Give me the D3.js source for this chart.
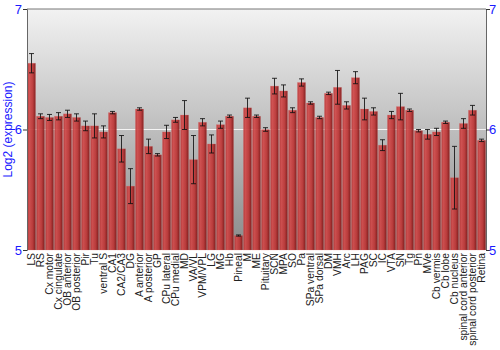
<!DOCTYPE html>
<html>
<head>
<meta charset="utf-8">
<script src="https://cdn.jsdelivr.net/npm/d3@7"></script>
<style>
  body { margin: 0; background: #fff; }
  svg { display: block; font-family: "Liberation Sans", Arial, sans-serif; }
</style>
</head>
<body>
<svg id="chart" width="500" height="350"></svg>
<script>
// Chart data
const regions = ["LS", "RS", "Cx motor", "Cx cingulate", "OB anterior", "OB posterior", "Pir", "Tu",
  "ventral S", "CA1", "CA2/CA3", "DG", "A anterior", "A posterior", "GP", "CPu lateral", "CPu medial",
  "MD", "VA/VL", "VPM/VPL", "LG", "MG", "Hb", "Pineal", "M", "ME", "Pituitary", "SCN", "MPA", "SO",
  "Pa", "SPa ventral", "SPa dorsal", "DM", "VMH", "Arc", "LH", "PAG", "SC", "IC", "VTA", "SN", "Tg",
  "Pn", "MVe", "Cb vermis", "Cb lobe", "Cb nucleus", "spinal cord anterior", "spinal cord posterior", "Retina"];
const expression = [6.55, 6.11, 6.10, 6.11, 6.13, 6.10, 6.03, 6.03, 5.98, 6.14, 5.84, 5.53, 6.17, 5.86,
  5.79, 5.98, 6.08, 6.12, 5.75, 6.06, 5.88, 6.04, 6.11, 5.12, 6.18, 6.11, 6.00, 6.36, 6.32, 6.16,
  6.39, 6.22, 6.10, 6.30, 6.35, 6.20, 6.43, 6.17, 6.15, 5.87, 6.12, 6.19, 6.16, 5.99, 5.96, 5.98,
  6.06, 5.60, 6.05, 6.16, 5.91];
const errors = [0.08, 0.02, 0.025, 0.03, 0.03, 0.03, 0.04, 0.10, 0.05, 0.01, 0.11, 0.145, 0.01, 0.06,
  0.01, 0.055, 0.02, 0.12, 0.20, 0.03, 0.075, 0.03, 0.01, 0.005, 0.08, 0.01, 0.015, 0.065, 0.05, 0.02,
  0.03, 0.01, 0.01, 0.01, 0.14, 0.03, 0.05, 0.09, 0.03, 0.045, 0.03, 0.11, 0.01, 0.01, 0.04, 0.03,
  0.01, 0.26, 0.04, 0.04, 0.01];
const yTicks = [5, 6, 7];

const svg = d3.select("#chart");
const margin = {top: 9, right: 14, bottom: 100, left: 27};
const width = 500 - margin.left - margin.right;
const height = 350 - margin.top - margin.bottom;

const x = d3.scaleBand().domain(regions).range([0, width]).paddingInner(0.1).paddingOuter(0.05);
const y = d3.scaleLinear().domain([5, 7]).range([height, 0]);

const defs = svg.append("defs");
const bg = defs.append("linearGradient").attr("id", "bg").attr("x1", 0).attr("y1", 0).attr("x2", 0).attr("y2", 1);
bg.append("stop").attr("offset", "0%").attr("stop-color", "#f2f2f2");
bg.append("stop").attr("offset", "100%").attr("stop-color", "#8a8a8a");

const barFill = defs.append("linearGradient").attr("id", "bar").attr("x1", 0).attr("y1", 0).attr("x2", 1).attr("y2", 0);
barFill.append("stop").attr("offset", "0%").attr("stop-color", "#b83434");
barFill.append("stop").attr("offset", "25%").attr("stop-color", "#d04848");
barFill.append("stop").attr("offset", "65%").attr("stop-color", "#bc3434");
barFill.append("stop").attr("offset", "100%").attr("stop-color", "#7e1414");

const g = svg.append("g").attr("transform", `translate(${margin.left},${margin.top})`);

// Plot background and grid
g.append("rect").attr("width", width).attr("height", height).attr("fill", "url(#bg)");
g.append("line")
  .attr("x1", 0).attr("x2", width)
  .attr("y1", y(6)).attr("y2", y(6))
  .attr("stroke", "#f4f4f4").attr("stroke-width", 1.2);

// Bars
g.selectAll("rect.bar")
  .data(regions)
  .join("rect")
  .attr("class", "bar")
  .attr("x", d => x(d))
  .attr("width", x.bandwidth())
  .attr("y", (d, i) => y(expression[i]))
  .attr("height", (d, i) => height - y(expression[i]))
  .attr("fill", "url(#bar)")
  .attr("fill-opacity", 0.92)
  .attr("stroke", "#e07070")
  .attr("stroke-opacity", 0.35)
  .attr("stroke-width", 0.6);

// Error bars
const eb = g.selectAll("g.err")
  .data(regions)
  .join("g")
  .attr("class", "err")
  .attr("stroke", "#111")
  .attr("stroke-opacity", 0.85)
  .attr("stroke-width", 1);
const cx = d => x(d) + x.bandwidth() / 2;
eb.append("line")
  .attr("x1", cx).attr("x2", cx)
  .attr("y1", (d, i) => y(expression[i] + errors[i]))
  .attr("y2", (d, i) => y(expression[i] - errors[i]));
eb.append("line")
  .attr("x1", d => cx(d) - 2.5).attr("x2", d => cx(d) + 2.5)
  .attr("y1", (d, i) => y(expression[i] + errors[i]))
  .attr("y2", (d, i) => y(expression[i] + errors[i]));
eb.append("line")
  .attr("x1", d => cx(d) - 2.5).attr("x2", d => cx(d) + 2.5)
  .attr("y1", (d, i) => y(expression[i] - errors[i]))
  .attr("y2", (d, i) => y(expression[i] - errors[i]));

// Frame
g.append("line").attr("x1", 0).attr("x2", width).attr("y1", 0).attr("y2", 0)
  .attr("stroke", "#777").attr("stroke-width", 1);

// Axes
const left = g.append("g").call(d3.axisLeft(y).tickValues(yTicks).tickSize(4).tickFormat(d3.format("d")));
const right = g.append("g").attr("transform", `translate(${width},0)`)
  .call(d3.axisRight(y).tickValues(yTicks).tickSize(4).tickFormat(d3.format("d")));
[left, right].forEach(a => {
  a.select(".domain").attr("stroke", "#666");
  a.selectAll(".tick line").attr("stroke", "#333");
  a.selectAll(".tick text").attr("fill", "#1a1aff").attr("font-size", 13)
    .attr("font-family", "'Liberation Sans', Arial, sans-serif");
});
left.selectAll(".tick text").attr("x", -5);
right.selectAll(".tick text").attr("x", 3);

// X labels
const xa = g.append("g").attr("transform", `translate(0,${height})`)
  .call(d3.axisBottom(x).tickSize(0));
xa.select(".domain").remove();
xa.selectAll(".tick text")
  .attr("transform", "rotate(-90)")
  .attr("text-anchor", "end")
  .attr("x", -3)
  .attr("y", 0)
  .attr("dy", "0.35em")
  .attr("fill", "#222")
  .attr("font-size", 10.3)
  .attr("font-family", "'Liberation Sans', Arial, sans-serif");

// Y title
svg.append("text")
  .attr("transform", `translate(12,${margin.top + height / 2}) rotate(-90)`)
  .attr("text-anchor", "middle")
  .attr("fill", "#1a1aff")
  .attr("font-size", 12)
  .text("Log2 (expression)");
</script>
</body>
</html>
